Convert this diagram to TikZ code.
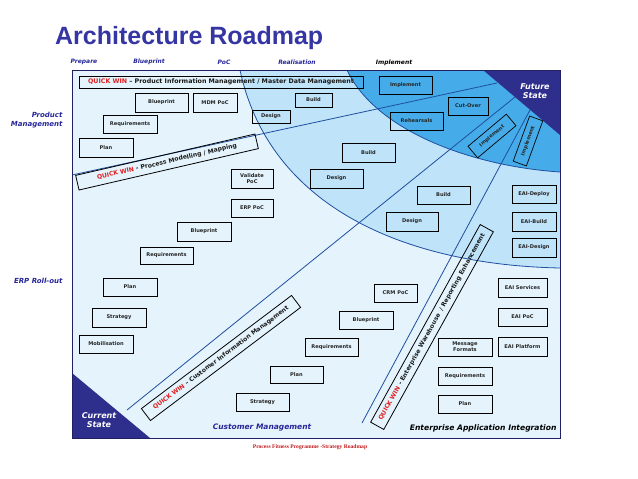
\documentclass[tikz,border=0pt]{standalone}
\usepackage{fontspec}
\setmainfont{DejaVu Sans}
\newfontfamily\titlefont{Liberation Sans}
\newfontfamily\footfont{Liberation Serif}
\definecolor{outerc}{HTML}{E4F3FC}
\definecolor{midc}{HTML}{BFE3F8}
\definecolor{innerc}{HTML}{45ACE9}
\definecolor{navyc}{HTML}{2E2E8C}
\definecolor{zlinec}{HTML}{1F4F9F}
\definecolor{titlec}{HTML}{3535A3}
\definecolor{lblc}{HTML}{26269A}
\definecolor{qwred}{HTML}{E02020}
\definecolor{footc}{HTML}{C01818}
\tikzset{
  bx/.style={draw=black, line width=0.7pt, inner sep=0pt, align=center,
    font=\fontsize{5.1}{5.8}\selectfont\bfseries, text=black!85},
  qw/.style={draw=black, line width=0.8pt, inner sep=0pt, align=center,
    font=\fontsize{6.1}{7}\selectfont\bfseries, text=black!90},
  phase/.style={font=\fontsize{6}{7}\selectfont\bfseries\itshape, text=lblc},
  side/.style={font=\fontsize{7}{8.2}\selectfont\bfseries\itshape, text=lblc, align=right, anchor=east},
  zline/.style={draw=zlinec, line width=0.8pt},
  state/.style={font=\fontsize{8}{9.5}\selectfont\bfseries\itshape, text=white, align=center},
}
\newcommand{\QW}{{\color{qwred}QUICK WIN}}
\begin{document}
\begin{tikzpicture}[x=1pt,y=-1pt]
\useasboundingbox (0,0) rectangle (638,479);
% zones
\begin{scope}
\clip (72,70) rectangle (560,438);
\fill[outerc] (72,70) rectangle (560,438);
\fill[midc] (240,70) .. controls (270,210) and (410,265) .. (560,268) -- (560,70) -- cycle;
\draw[zline] (240,70) .. controls (270,210) and (410,265) .. (560,268);
\fill[innerc] (347,70) .. controls (375,130) and (470,166) .. (560,172) -- (560,70) -- cycle;
\draw[zline] (347,70) .. controls (375,130) and (470,166) .. (560,172);
\coordinate (l1a) at (72,175); \coordinate (l1b) at (497,83);
\coordinate (l2a) at (127,410); \coordinate (l2b) at (515,97);
\coordinate (l3a) at (362,423); \coordinate (l3b) at (530,110);
\draw[zline] (l1a) -- (l1b);
\draw[zline] (l2a) -- (l2b);
\draw[zline] (l3a) -- (l3b);
\fill[navyc] (483,70) -- (560,70) -- (560,135) -- cycle;
\fill[navyc] (72,373) -- (72,438) -- (150,438) -- cycle;
\end{scope}
\draw[draw=navyc!70!black, line width=0.8pt] (72,70) rectangle (560,438);

% title and labels
\node[anchor=base west, inner sep=0pt, text=titlec, font=\fontsize{25}{28}\selectfont\titlefont\bfseries] (title) at (55,45) {Architecture Roadmap};
\node[phase] (ph1) at (84,62) {Prepare};
\node[phase] (ph2) at (149,62) {Blueprint};
\node[phase] (ph3) at (224,62) {PoC};
\node[phase] (ph4) at (297,62) {Realisation};
\node[phase, text=black] (ph5) at (394,63) {Implement};
\node[side] (pm) at (66,120) {Product\\Management};
\node[side] (erp) at (66,281) {ERP Roll-out};
\node[state] (fs) at (535,91) {Future\\State};
\node[state] (cs) at (99,420) {Current\\State};
\node[font=\fontsize{7.5}{9}\selectfont\bfseries\itshape, text=lblc] (cm) at (262,428) {Customer Management};
\node[font=\fontsize{7.6}{9}\selectfont\bfseries\itshape, text=black, anchor=east] (eai) at (560,428) {Enterprise Application Integration};
\node[font=\fontsize{5.6}{6.5}\selectfont\footfont\bfseries, text=footc] (foot) at (310,447) {Process Fitness Programme -Strategy Roadmap};

% quick wins
\node[qw, minimum width=284pt, minimum height=12pt, font=\fontsize{6.3}{7}\selectfont\bfseries] (qw1) at (221,82) {\QW{} – Product Information Management / Master Data Management};
\node[qw, minimum width=184pt, minimum height=15pt, rotate=13] (qw2) at (167,162) {\QW{} - Process Modelling / Mapping};
\node[qw, minimum width=188pt, minimum height=15pt, rotate=37] (qw3) at (221,358) {\QW{} – Customer Information Management};
\node[qw, minimum width=226pt, minimum height=15pt, rotate=61] (qw4) at (432,327) {\QW{} - Enterprise Warehouse \ / Reporting Enhancement};

% boxes
\node[bx, minimum width=53pt, minimum height=19pt] (bp1) at (161.5,102.5) {Blueprint};
\node[bx, minimum width=44pt, minimum height=19pt] (mdm) at (215,102.5) {MDM PoC};
\node[bx, minimum width=54pt, minimum height=18pt] (rq1) at (130,124) {Requirements};
\node[bx, minimum width=54pt, minimum height=19pt] (pl1) at (106,147.5) {Plan};
\node[bx, minimum width=37pt, minimum height=14pt] (bd1) at (313.5,100) {Build};
\node[bx, minimum width=38pt, minimum height=13pt] (ds1) at (271,116.5) {Design};
\node[bx, minimum width=53pt, minimum height=18pt] (im1) at (405.5,85) {Implement};
\node[bx, minimum width=40pt, minimum height=18pt] (co) at (468,106) {Cut-Over};
\node[bx, minimum width=53pt, minimum height=18pt] (rh) at (416.5,121) {Rehearsals};
\node[bx, minimum width=53pt, minimum height=19pt] (bd2) at (368.5,152.5) {Build};
\node[bx, minimum width=53pt, minimum height=19pt] (ds2) at (336.5,178.5) {Design};
\node[bx, minimum width=42pt, minimum height=19pt] (vp) at (252,178.5) {Validate\\PoC};
\node[bx, minimum width=42pt, minimum height=18pt] (erpp) at (252,208) {ERP PoC};
\node[bx, minimum width=54pt, minimum height=19pt] (bp2) at (204,231.5) {Blueprint};
\node[bx, minimum width=53pt, minimum height=17pt] (rq2) at (166.5,255.5) {Requirements};
\node[bx, minimum width=54pt, minimum height=18pt] (pl2) at (130,287) {Plan};
\node[bx, minimum width=54pt, minimum height=19pt] (st1) at (119,317.5) {Strategy};
\node[bx, minimum width=54pt, minimum height=18pt] (mob) at (106,344) {Mobilisation};
\node[bx, minimum width=53pt, minimum height=18pt] (bd3) at (443.5,195) {Build};
\node[bx, minimum width=52pt, minimum height=19pt] (ds3) at (412,221.5) {Design};
\node[bx, minimum width=44pt, minimum height=18pt] (ed) at (534,194) {EAI-Deploy};
\node[bx, minimum width=44pt, minimum height=19pt] (eb) at (534,221.5) {EAI-Build};
\node[bx, minimum width=44pt, minimum height=19pt] (eds) at (534,247.5) {EAI-Design};
\node[bx, minimum width=49pt, minimum height=19pt] (es) at (522.5,287.5) {EAI Services};
\node[bx, minimum width=49pt, minimum height=18pt] (ep) at (522.5,317) {EAI PoC};
\node[bx, minimum width=49pt, minimum height=19pt] (epl) at (522.5,346.5) {EAI Platform};
\node[bx, minimum width=43pt, minimum height=18pt] (crm) at (395.5,293) {CRM PoC};
\node[bx, minimum width=54pt, minimum height=18pt] (bp3) at (366,320) {Blueprint};
\node[bx, minimum width=53pt, minimum height=18pt] (rq3) at (331.5,347) {Requirements};
\node[bx, minimum width=53pt, minimum height=17pt] (pl3) at (296.5,374.5) {Plan};
\node[bx, minimum width=53pt, minimum height=18pt] (st2) at (262.5,402) {Strategy};
\node[bx, minimum width=54pt, minimum height=18pt] (mf) at (465,347) {Message\\Formats};
\node[bx, minimum width=54pt, minimum height=18pt] (rq4) at (465,376) {Requirements};
\node[bx, minimum width=54pt, minimum height=18pt] (pl4) at (465,404) {Plan};
\node[bx, minimum width=50pt, minimum height=15pt, rotate=40] (ir1) at (492,136) {Implement};
\node[bx, minimum width=48pt, minimum height=14pt, rotate=70] (ir2) at (528,141) {Implement};
\end{tikzpicture}
\end{document}
